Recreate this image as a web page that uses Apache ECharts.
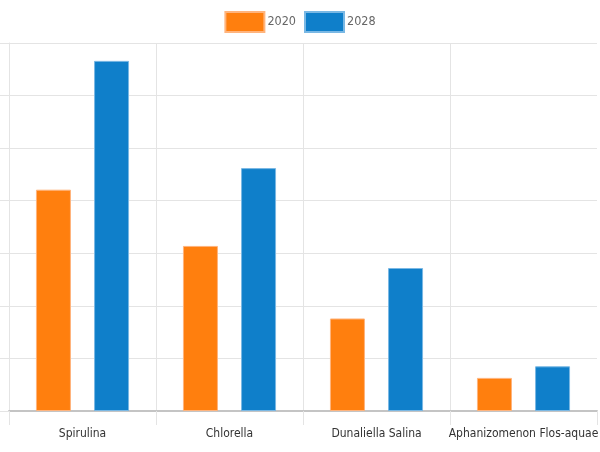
<!DOCTYPE html>
<html><head><meta charset="utf-8">
<script src="https://cdn.jsdelivr.net/npm/echarts@6/dist/echarts.min.js"></script>
<style>html,body{margin:0;padding:0;background:#fff}#c{width:600px;height:452px}</style>
</head><body><div id="c"></div>
<script>
const categories = ['Spirulina', 'Chlorella', 'Dunaliella Salina', 'Aphanizomenon Flos-aquae'];
const seriesNames = ['2020', '2028'];
const values2020 = [421, 314, 176, 63];
const values2028 = [666, 462, 272, 85];
const yTicks = [0, 100, 200, 300, 400, 500, 600, 700];

const FONT = '"DejaVu Sans Condensed", "Liberation Sans", sans-serif';
const chart = echarts.init(document.getElementById('c'), null, {renderer: 'canvas'});
chart.setOption({
  animation: false,
  textStyle: {fontFamily: FONT},
  legend: {
    top: 6, left: 'center', icon: 'rect',
    itemWidth: 39, itemHeight: 20, itemGap: 8,
    textStyle: {color: '#666', fontSize: 12.5, fontFamily: FONT, padding: [0, 0, 0, -2]},
    data: seriesNames
  },
  grid: {left: 9, right: 3, top: 43, bottom: 41, containLabel: false, outerBoundsMode: 'none'},
  xAxis: {
    type: 'category', data: categories, boundaryGap: true,
    axisLine: {lineStyle: {color: '#c4c4c4', width: 2}},
    axisTick: {show: true, length: 14, lineStyle: {color: '#e4e4e4'}},
    splitLine: {show: true, showMaxLine: false, lineStyle: {color: '#e4e4e4'}},
    axisLabel: {color: '#333', fontSize: 12, fontFamily: FONT, margin: 17, interval: 0}
  },
  yAxis: {
    type: 'value', min: yTicks[0], max: yTicks[yTicks.length - 1], interval: 100,
    axisLine: {show: true, lineStyle: {color: '#e4e4e4'}},
    axisTick: {show: true, length: 9, lineStyle: {color: '#e4e4e4'}},
    axisLabel: {show: false},
    splitLine: {show: true, lineStyle: {color: '#e4e4e4'}}
  },
  series: [
    {name: seriesNames[0], type: 'bar', data: values2020, barWidth: 35, barGap: '66%',
     itemStyle: {color: '#ff7f0e', borderColor: '#ffb47d', borderWidth: 1}},
    {name: seriesNames[1], type: 'bar', data: values2028, barWidth: 35,
     itemStyle: {color: '#0f7fca', borderColor: '#7ab8e4', borderWidth: 1}}
  ]
});
</script></body></html>
